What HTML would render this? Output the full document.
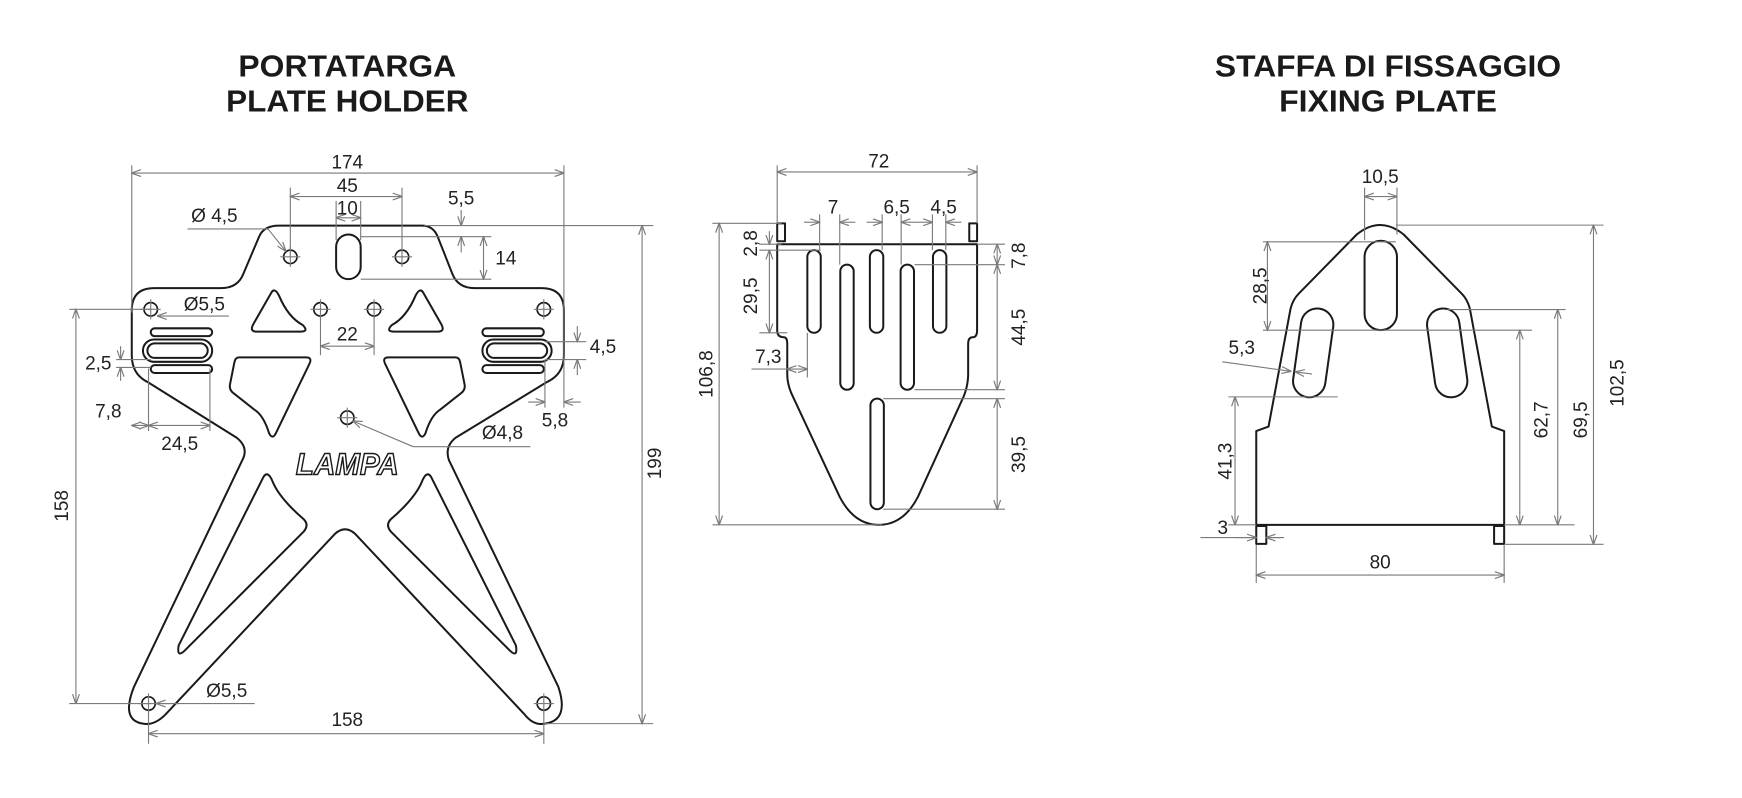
<!DOCTYPE html>
<html><head><meta charset="utf-8"><style>
html,body{margin:0;padding:0;background:#fff;width:1742px;height:798px;overflow:hidden}
svg{display:block}
.o{fill:none;stroke:#1a1a1a;stroke-width:1.8;stroke-linejoin:round}
.d{fill:none;stroke:#7a7a7a;stroke-width:1}
.a{fill:none;stroke:#7a7a7a;stroke-width:1;marker-start:url(#ar);marker-end:url(#ar)}
.e{fill:none;stroke:#7a7a7a;stroke-width:1;marker-end:url(#ar)}
text{font-family:"Liberation Sans",sans-serif;fill:#222}
.t{font-size:17px;text-anchor:middle}
.h{font-size:27px;font-weight:bold;text-anchor:middle;fill:#1a1a1a}
</style></head><body>
<svg width="1742" height="798" viewBox="0 0 1560 714.6" preserveAspectRatio="none" xmlns="http://www.w3.org/2000/svg">
<defs>
<marker id="ar" viewBox="0 0 10 8" refX="9.5" refY="4" markerWidth="9" markerHeight="7" orient="auto-start-reverse" markerUnits="userSpaceOnUse">
<path d="M0,0.5 L10,4 L0,7.5" fill="none" stroke="#7a7a7a" stroke-width="1.2"/>
</marker>
<g id="hole"><circle r="6" fill="none" stroke="#1a1a1a" stroke-width="1.5"/><path d="M-9,0H9M0,-9V9" stroke="#7a7a7a" stroke-width="1"/></g>
<g id="half">
<path class="o" d="M243,262 Q246,257 250,265 Q258,284 271,291 Q277,297 269,297 L230,297 Q223,297 227,290 Z"/>
<path class="o" d="M214,320 L274,320 Q280,320 277,326 L247,388 Q244,394 241,388 Q236,372 228,367 L209,352 Q205,349 206,344 L210,324 Q211,320 214,320 Z"/>
<path class="o" d="M236,427 Q240,421 244,431 Q250,446 272,465 Q277,470 272,476 L166,582 Q158,590 160,578 Z"/>
<rect class="o" x="135" y="294" width="55" height="7" rx="3.5"/>
<rect class="o" x="128" y="304" width="62" height="20" rx="10"/>
<rect class="o" x="132" y="307.5" width="54" height="13" rx="6.5" stroke-width="1.5"/>
<rect class="o" x="135" y="327" width="55" height="7" rx="3.5"/>
</g>
</defs>

<!-- titles -->
<text class="h" x="311" y="68.7" textLength="195" lengthAdjust="spacingAndGlyphs">PORTATARGA</text>
<text class="h" x="311" y="100" textLength="217" lengthAdjust="spacingAndGlyphs">PLATE HOLDER</text>
<text class="h" x="1243" y="68.7" textLength="310" lengthAdjust="spacingAndGlyphs">STAFFA DI FISSAGGIO</text>
<text class="h" x="1243" y="100" textLength="195" lengthAdjust="spacingAndGlyphs">FIXING PLATE</text>

<!-- ===== PLATE HOLDER ===== -->
<path class="o" d="M250,202 L378,202 Q388,202 392,212 L405,245 Q410,258 425,258 L485,258 Q505,258 505,278 L505,318 Q505,335 490,342 L408,392 Q398,400 402,412 L500,615 Q510,645 488,648 Q478,650 470,640 L318,478 Q309,470 300,478 L148,640 Q138,650 128,648 Q108,645 120,615 L218,410 Q222,400 212,392 L132,342 Q118,335 118,318 L118,278 Q118,258 138,258 L198,258 Q213,258 218,245 L232,212 Q236,202 250,202 Z"/>
<use href="#half"/>
<use href="#half" transform="translate(622,0) scale(-1,1)"/>
<rect class="o" x="301" y="210" width="22" height="40" rx="11"/>
<use href="#hole" x="260" y="230"/><use href="#hole" x="360" y="230"/>
<use href="#hole" x="135" y="277"/><use href="#hole" x="487" y="277"/>
<use href="#hole" x="287" y="277"/><use href="#hole" x="335" y="277"/>
<use href="#hole" x="311" y="374"/>
<use href="#hole" x="133" y="630"/><use href="#hole" x="487" y="630"/>
<text x="311" y="425" text-anchor="middle" font-size="27" font-weight="bold" font-style="italic" style="font-family:'Liberation Sans',sans-serif;fill:#fff;stroke:#1a1a1a;stroke-width:1.3" textLength="92" lengthAdjust="spacingAndGlyphs">LAMPA</text>

<!-- dims plate holder -->
<path class="d" d="M118,148V280M505,148V365M260,168V226M360,168V226M301,180V215M323,180V215"/>
<line class="a" x1="118" y1="155" x2="505" y2="155"/><text class="t" x="311" y="151">174</text>
<line class="a" x1="260" y1="176" x2="360" y2="176"/><text class="t" x="311" y="172">45</text>
<line class="a" x1="301" y1="195" x2="323" y2="195"/><text class="t" x="311" y="192">10</text>
<path class="d" d="M380,202H585M323,212H440M323,250H440"/>
<line class="e" x1="413" y1="188" x2="413" y2="202"/><line class="e" x1="413" y1="226" x2="413" y2="212"/>
<text class="t" x="413" y="183">5,5</text>
<line class="a" x1="433" y1="212" x2="433" y2="250"/><text class="t" x="453" y="237">14</text>
<text class="t" x="192" y="199">Ø 4,5</text>
<path class="d" d="M168,205H240"/><line class="e" x1="240" y1="205" x2="256" y2="225"/>
<text class="t" x="183" y="278">Ø5,5</text>
<path class="d" d="M62,277H135"/><line class="e" x1="205" y1="283" x2="141" y2="283"/>
<path class="d" d="M287,283V318M335,283V318"/>
<line class="a" x1="287" y1="310" x2="335" y2="310"/><text class="t" x="311" y="305">22</text>
<path class="d" d="M488,306H525M488,322H525M488,322V365"/>
<line class="e" x1="517" y1="292" x2="517" y2="306"/><line class="e" x1="517" y1="336" x2="517" y2="322"/>
<text class="t" x="540" y="316">4,5</text>
<line class="e" x1="473" y1="360" x2="488" y2="360"/><line class="e" x1="520" y1="360" x2="505" y2="360"/>
<text class="t" x="497" y="382">5,8</text>
<path class="d" d="M104,322H135M104,329H135"/>
<line class="e" x1="108" y1="310" x2="108" y2="322"/><line class="e" x1="108" y1="341" x2="108" y2="329"/>
<text class="t" x="88" y="331">2,5</text>
<path class="d" d="M133,330V386M188,330V386"/>
<line class="a" x1="118" y1="381" x2="133" y2="381"/><text class="t" x="97" y="374">7,8</text>
<line class="a" x1="133" y1="381" x2="188" y2="381"/><text class="t" x="161" y="403">24,5</text>
<path class="d" d="M370,400H475"/><line class="e" x1="370" y1="400" x2="316" y2="377"/>
<text class="t" x="450" y="393">Ø4,8</text>
<path class="d" d="M62,630H135"/>
<line class="a" x1="68" y1="277" x2="68" y2="630"/>
<text class="t" transform="translate(61,453) rotate(-90)">158</text>
<text class="t" x="203" y="624">Ø5,5</text>
<path class="d" d="M228,630H145"/><line class="e" x1="160" y1="630" x2="140" y2="630"/>
<path class="d" d="M133,636V666M487,636V666M487,648H585"/>
<line class="a" x1="133" y1="657" x2="487" y2="657"/><text class="t" x="311" y="650">158</text>
<line class="a" x1="575" y1="202" x2="575" y2="648"/>
<text class="t" transform="translate(592,415) rotate(-90)">199</text>

<!-- ===== MIDDLE PART ===== -->
<path class="o" d="M696,218.7 L696,296 Q696,302 702,302 Q705,302 705,308 L705,335 Q705,345 710,355 L752,445 Q765,470 787,470 Q809,470 822,445 L863,355 Q867,345 867,335 L867,308 Q867,302 871,302 Q875,302 875,296 L875,218.7 Z"/>
<rect class="o" x="696" y="200" width="7" height="16" stroke-width="1.5"/>
<rect class="o" x="868" y="200" width="7" height="16" stroke-width="1.5"/>
<rect class="o" x="723" y="224" width="12" height="74" rx="6"/>
<rect class="o" x="752.5" y="237" width="12" height="112" rx="6"/>
<rect class="o" x="779" y="224" width="12" height="74" rx="6"/>
<rect class="o" x="806.5" y="237" width="12" height="112" rx="6"/>
<rect class="o" x="835.5" y="224" width="12" height="74" rx="6"/>
<rect class="o" x="779.5" y="357" width="12" height="99" rx="6"/>
<path class="d" d="M696,148V200M875,148V200"/>
<line class="a" x1="696" y1="154" x2="875" y2="154"/><text class="t" x="787" y="150">72</text>
<path class="d" d="M734,192V224M752,192V237M790,192V224M807,192V237M835,192V224M847,192V224"/>
<line class="e" x1="720" y1="199" x2="734" y2="199"/><line class="e" x1="766" y1="199" x2="752" y2="199"/>
<line class="e" x1="776" y1="199" x2="790" y2="199"/><line class="e" x1="821" y1="199" x2="807" y2="199"/>
<line class="e" x1="821" y1="199" x2="835" y2="199"/><line class="e" x1="861" y1="199" x2="847" y2="199"/>
<text class="t" x="746" y="191">7</text><text class="t" x="803" y="191">6,5</text><text class="t" x="845" y="191">4,5</text>
<path class="d" d="M638,200H700M638,470H790"/>
<line class="a" x1="644" y1="200" x2="644" y2="470"/>
<text class="t" transform="translate(638,335) rotate(-90)">106,8</text>
<path class="d" d="M680,218.7H700M680,224H735M680,298H705"/>
<line class="e" x1="689" y1="207" x2="689" y2="218.7"/>
<line class="a" x1="689" y1="224" x2="689" y2="298"/>
<text class="t" transform="translate(678,218) rotate(-90)">2,8</text>
<text class="t" transform="translate(678,265) rotate(-90)">29,5</text>
<path class="d" d="M673,330.5H705M723,298V338"/>
<line class="a" x1="705" y1="330.5" x2="723" y2="330.5"/><text class="t" x="688" y="325">7,3</text>
<path class="d" d="M875,218.7H900M819,237H900M819,349H900M791,357H900M791,456H900"/>
<line class="a" x1="893" y1="218.7" x2="893" y2="237"/>
<line class="a" x1="893" y1="237" x2="893" y2="349"/>
<line class="a" x1="893" y1="357" x2="893" y2="456"/>
<text class="t" transform="translate(918,229) rotate(-90)">7,8</text>
<text class="t" transform="translate(918,293) rotate(-90)">44,5</text>
<text class="t" transform="translate(918,407) rotate(-90)">39,5</text>

<!-- ===== FIXING PLATE ===== -->
<path class="o" d="M1125,470 L1125,386 L1136,382 L1155.8,276 Q1158,268 1163,263 L1215,210 Q1236,193 1257,210 L1309,263 Q1314,268 1316.2,276 L1336,382 L1347,386 L1347,470 Z"/>
<rect class="o" x="1125" y="471" width="9" height="16" stroke-width="1.5"/>
<rect class="o" x="1338" y="471" width="9" height="16" stroke-width="1.5"/>
<rect class="o" x="1222" y="215.6" width="29" height="80" rx="14.5"/>
<rect class="o" x="-14.5" y="-40" width="29" height="80" rx="14.5" transform="translate(1176,316) rotate(8)"/>
<rect class="o" x="-14.5" y="-40" width="29" height="80" rx="14.5" transform="translate(1296,316) rotate(-8)"/>
<path class="d" d="M1222,168V215M1251,168V210"/>
<line class="a" x1="1222" y1="176" x2="1251" y2="176"/><text class="t" x="1236" y="164">10,5</text>
<path class="d" d="M1131,216.5H1250M1131,295.7H1372"/>
<line class="a" x1="1135" y1="216.5" x2="1135" y2="295.7"/>
<text class="t" transform="translate(1134,256) rotate(-90)">28,5</text>
<line class="e" x1="1175" y1="335" x2="1160" y2="333"/>
<line class="e" x1="1094.6" y1="324" x2="1156" y2="332.5"/>
<text class="t" x="1112" y="317">5,3</text>
<path class="d" d="M1100,355.4H1198"/>
<line class="a" x1="1106" y1="355.4" x2="1106" y2="470"/>
<text class="t" transform="translate(1103,413) rotate(-90)">41,3</text>
<path class="d" d="M1075,481.4H1125M1134,481.4H1147M1100,470H1125"/>
<line class="e" x1="1105" y1="481.4" x2="1125" y2="481.4"/><line class="e" x1="1150" y1="481.4" x2="1134" y2="481.4"/>
<text class="t" x="1095" y="478">3</text>
<path class="d" d="M1125,488V522M1347,488V522"/>
<line class="a" x1="1125" y1="515" x2="1347" y2="515"/><text class="t" x="1236" y="509">80</text>
<path class="d" d="M1347,470H1410M1296,277.2H1402M1250,201.6H1436M1347,487.4H1436"/>
<line class="a" x1="1361" y1="295.7" x2="1361" y2="470"/>
<line class="a" x1="1395" y1="277.2" x2="1395" y2="470"/>
<line class="a" x1="1427" y1="201.6" x2="1427" y2="487.4"/>
<text class="t" transform="translate(1386,376) rotate(-90)">62,7</text>
<text class="t" transform="translate(1421,376) rotate(-90)">69,5</text>
<text class="t" transform="translate(1454,343) rotate(-90)">102,5</text>
</svg>
</body></html>
